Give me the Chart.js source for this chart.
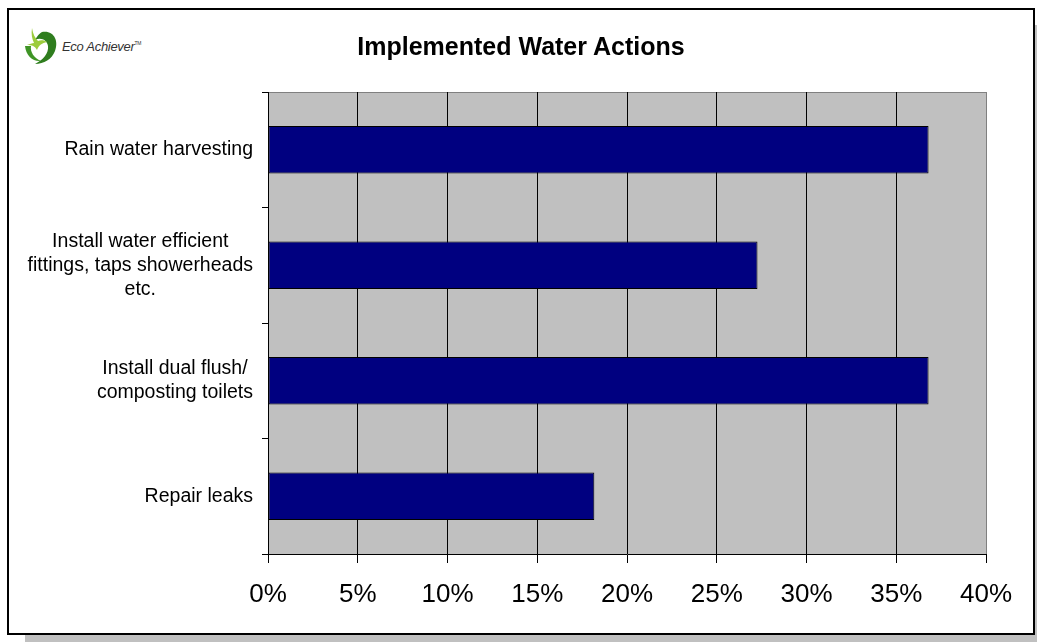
<!DOCTYPE html>
<html>

<head>
    <meta charset="utf-8">
    <title>Implemented Water Actions</title>
    <script src="https://cdn.jsdelivr.net/npm/chart.js"></script>

    <style>
        html, body {
            margin: 0;
            padding: 0;
            background: #fff;
            overflow: hidden;
            width: 1037px;
            height: 642px;
        }

        .frame {
            position: absolute;
            left: 7px;
            top: 8px;
            width: 1028px;
            height: 627px;
            box-sizing: border-box;
            border: 2px solid #000;
            box-shadow: 18px 17px 0 #c0c0c0;
            background: #fff;
        }

        .logo {
            position: absolute;
            left: 21px;
            top: 27px;
            display: flex;
            align-items: center;
            font-family: "Liberation Sans", Arial, sans-serif;
        }

        .logo span {
            font-style: italic;
            font-size: 13px;
            color: #333;
            margin-left: 3px;
            letter-spacing: -0.3px;
        }

        .logo sup {
            font-size: 5px;
            font-style: normal;
            vertical-align: 6px;
        }

        .title {
            position: absolute;
            left: 0;
            top: 31px;
            width: 1042px;
            text-align: center;
            font: bold 25px "Liberation Sans", Arial, sans-serif;
            line-height: 30px;
            color: #000;
            z-index: 2;
        }

        canvas {
            position: absolute;
            left: 0;
            top: 0;
        }
    </style>
</head>

<body>
    <div class="frame"></div>
    <div class="logo">
        <svg width="38" height="38" viewBox="0 0 36 38">
            <path d="M20 5 C32 3 37 14 33 24 C30 32 22 37 13 37 C21 33 27 26 26 19 C25 13 19 10 13 13 C16 8 18 6 20 5 Z" fill="#2f7d1e"/>
            <path d="M3 19 C4 29 11 35 19 34 C12 31 8 25 9 19 Z" fill="#3f9426"/>
            <path d="M12 16 C10 12 9 7 10 1 C11 7 13 11 16 14 C19 13 22 13 25 15 C20 16 17 18 15 23 C13 19 10 18 5 18 C8 17 10 16 12 16 Z" fill="#9ccc3c"/>
        </svg>
        <span>Eco Achiever<sup>TM</sup></span>
    </div>
    <div class="title">Implemented Water Actions</div>
    <canvas id="graph" width="1037" height="642"></canvas>

    <script>
        const actions = [
            'Rain water harvesting',
            ['Install water efficient', 'fittings, taps showerheads', 'etc.'],
            ['Install dual flush/', 'composting toilets'],
            'Repair leaks'
        ];
        const share = [36.8, 27.27, 36.8, 18.18];
        const xTicks = [0, 5, 10, 15, 20, 25, 30, 35, 40];

        const font = '"Liberation Sans", Arial, sans-serif';
        const labelFont = { family: font, size: 19.5, lineHeight: 24 };

        // grey plot area with a thin grey rule along the top
        const plotBackground = {
            id: 'plotBackground',
            beforeDraw(chart) {
                const { ctx, chartArea: a } = chart;
                ctx.save();
                ctx.fillStyle = '#c0c0c0';
                ctx.fillRect(a.left, a.top, a.right - a.left, a.bottom - a.top);
                ctx.strokeStyle = '#808080';
                ctx.lineWidth = 1;
                ctx.beginPath();
                ctx.moveTo(a.left, Math.round(a.top) + 0.5);
                ctx.lineTo(a.right, Math.round(a.top) + 0.5);
                ctx.stroke();
                ctx.restore();
            }
        };

        // category labels: each block sits against the axis, its lines centred on each other
        const categoryLabels = {
            id: 'categoryLabels',
            afterDraw(chart) {
                const { ctx } = chart;
                const scale = chart.scales.y;
                const right = scale.right - 15;
                ctx.save();
                ctx.font = labelFont.size + 'px ' + font;
                ctx.fillStyle = '#000';
                ctx.textAlign = 'center';
                ctx.textBaseline = 'middle';
                scale.ticks.forEach((t, i) => {
                    const lines = [].concat(chart.data.labels[i]);
                    const widest = Math.max(...lines.map(l => ctx.measureText(l).width));
                    const cx = right - widest / 2;
                    const cy = scale.getPixelForTick(i);
                    lines.forEach((l, k) => {
                        ctx.fillText(l, cx, cy + (k - (lines.length - 1) / 2) * labelFont.lineHeight);
                    });
                });
                ctx.restore();
            }
        };

        const ctx = document.getElementById('graph').getContext('2d');
        new Chart(ctx, {
            type: 'bar',
            data: {
                labels: actions,
                datasets: [{
                    data: share,
                    backgroundColor: '#000080',
                    borderColor: '#000',
                    borderWidth: 1,
                    borderSkipped: false,
                    categoryPercentage: 1,
                    barPercentage: 0.41
                }]
            },
            options: {
                indexAxis: 'y',
                responsive: false,
                animation: false,
                layout: {
                    padding: { left: 0, right: 51, top: 92, bottom: 0 }
                },
                plugins: {
                    legend: { display: false },
                    tooltip: { enabled: false },
                    title: { display: false }
                },
                scales: {
                    x: {
                        min: 0,
                        max: 40,
                        afterBuildTicks(scale) {
                            scale.ticks = xTicks.map(v => ({ value: v }));
                        },
                        afterFit(scale) {
                            scale.height = 88;
                        },
                        grid: {
                            color: c => c.index === xTicks.length - 1 ? '#808080' : '#000',
                            tickColor: '#000',
                            lineWidth: 1,
                            tickLength: 9
                        },
                        border: { display: true, color: '#000', width: 1 },
                        ticks: {
                            color: '#000',
                            padding: 16,
                            maxRotation: 0,
                            font: { family: font, size: 26 },
                            callback: v => v + '%'
                        }
                    },
                    y: {
                        afterFit(scale) {
                            scale.width = 268;
                        },
                        grid: {
                            drawOnChartArea: false,
                            color: '#000',
                            tickLength: 6,
                            offset: true
                        },
                        border: { display: true, color: '#000', width: 1 },
                        ticks: { display: false }
                    }
                }
            },
            plugins: [plotBackground, categoryLabels]
        });
    </script>
</body>

</html>
